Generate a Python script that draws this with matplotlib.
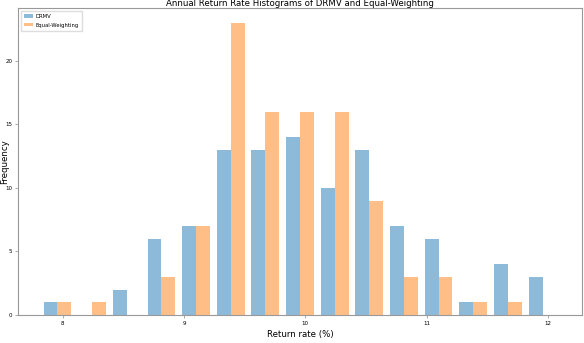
import numpy as np
import matplotlib
matplotlib.use("Agg")
import matplotlib.pyplot as plt

# Data (counts per bin)
drmv_counts = [1, 0, 2, 6, 7, 13, 13, 14, 10, 13, 7, 6, 1, 4, 3]
ew_counts = [1, 1, 0, 3, 7, 23, 16, 16, 16, 9, 3, 3, 1, 1, 0]
bin_low = 7.816
bin_high = 12.097
n_bins = 15
x_ticks = [8, 9, 10, 11, 12]
y_ticks = [0, 5, 10, 15, 20]
series_labels = ["DRMV", "Equal-Weighting"]

edges = np.linspace(bin_low, bin_high, n_bins + 1)
centers = (edges[:-1] + edges[1:]) / 2

W, H = 584, 343
fig = plt.figure(figsize=(W / 100, H / 100), dpi=100)
ax = fig.add_axes([18 / W, 1 - 315 / H, (582 - 18) / W, (315 - 8) / H])

ax.hist([centers, centers], bins=edges, weights=[drmv_counts, ew_counts],
        alpha=0.5, label=series_labels, color=["#1f77b4", "#ff7f0e"])

ax.set_xticks(x_ticks)
ax.set_yticks(y_ticks)
ax.tick_params(labelsize=4, length=2, width=0.5, color="#888888", pad=2)
for sp in ax.spines.values():
    sp.set_color("#999999")
    sp.set_linewidth(0.8)

ax.set_title("Annual Return Rate Histograms of DRMV and Equal-Weighting",
             fontsize=6.2, pad=0.8)
ax.set_xlabel("Return rate (%)", fontsize=6.2, labelpad=3)
ax.set_ylabel("Frequency", fontsize=6.2)
ax.yaxis.set_label_coords(-0.0155, 0.5)

ax.legend(loc="upper left", fontsize=3.8, handlelength=1.7, handleheight=0.6,
          borderpad=0.6, labelspacing=0.7, handletextpad=0.6, framealpha=1,
          edgecolor="#dddddd", fancybox=False)

fig.savefig("out.png", dpi=100)
